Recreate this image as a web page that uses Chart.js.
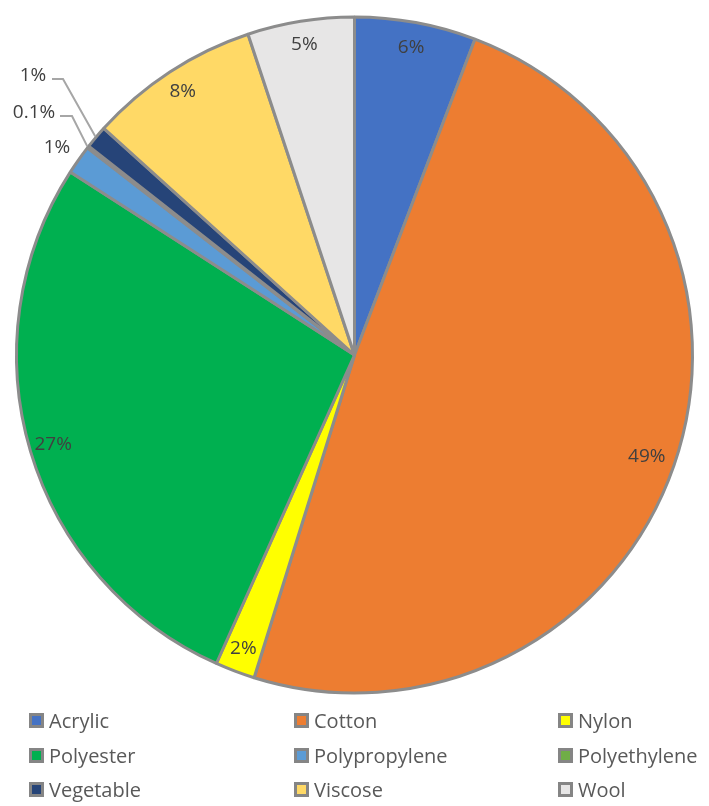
<!DOCTYPE html>
<html>
<head>
<meta charset="utf-8">
<script src="https://cdn.jsdelivr.net/npm/chart.js@4.4.1/dist/chart.umd.min.js"></script>
<style>
  html, body { margin: 0; padding: 0; background: #fff; }
  #wrap { position: relative; width: 709px; height: 806px; font-family: "Open Sans", sans-serif; }
  #box { position: absolute; left: 0; top: 0; width: 709px; height: 710px; }
  #legend { position: absolute; left: 0; top: 0; width: 709px; height: 806px; pointer-events: none; }
  .item { position: absolute; display: flex; align-items: center; font-size: 20px; color: #595959; height: 28px; }
  .swatch { width: 9px; height: 9px; border: 3px solid #858585; margin-right: 5px; }
</style>
</head>
<body>
<div id="wrap">
  <div id="box"><canvas id="pie"></canvas></div>
  <div id="legend"></div>
</div>
<script>
var categories = ["Acrylic", "Cotton", "Nylon", "Polyester", "Polypropylene", "Polyethylene", "Vegetable", "Viscose", "Wool"];
var shares = [5.8, 49, 1.9, 27.4, 1.4, 0.1, 1.1, 8.2, 5.1];
var sliceLabels = ["6%", "49%", "2%", "27%", "1%", "0.1%", "1%", "8%", "5%"];
var colors = ["#4472c4", "#ed7d31", "#ffff00", "#00b050", "#5b9bd5", "#70ad47", "#264478", "#ffd966", "#e7e6e6"];

// label placement: radial fraction for inside labels, fixed spots for the small ones
var labelRadius = [0.925, 0.915, 0.93, 0.93, null, null, null, 0.93, 0.93];
var outside = {
  4: { x: 57, y: 148 },
  5: { x: 34, y: 113, lead: [[60, 116], [72, 116]] },
  6: { x: 33, y: 76, lead: [[52, 79], [63, 79]] }
};

var labelPlugin = {
  id: "sliceLabels",
  afterDatasetsDraw: function (chart) {
    var ctx = chart.ctx;
    var arcs = chart.getDatasetMeta(0).data;
    ctx.save();
    ctx.font = '19px "Open Sans", sans-serif';
    ctx.fillStyle = "#404040";
    ctx.textAlign = "center";
    ctx.textBaseline = "middle";
    for (var i = 0; i < arcs.length; i++) {
      var a = arcs[i];
      var mid = (a.startAngle + a.endAngle) / 2;
      if (labelRadius[i] != null) {
        var r = a.outerRadius * labelRadius[i];
        ctx.fillText(sliceLabels[i], a.x + Math.cos(mid) * r, a.y + Math.sin(mid) * r);
      } else {
        var o = outside[i];
        ctx.fillText(sliceLabels[i], o.x, o.y);
        if (o.lead) {
          ctx.beginPath();
          ctx.strokeStyle = "#a6a6a6";
          ctx.lineWidth = 2;
          ctx.moveTo(o.lead[0][0], o.lead[0][1]);
          ctx.lineTo(o.lead[1][0], o.lead[1][1]);
          ctx.lineTo(a.x + Math.cos(mid) * (a.outerRadius + 1), a.y + Math.sin(mid) * (a.outerRadius + 1));
          ctx.stroke();
        }
      }
    }
    ctx.restore();
  }
};

new Chart(document.getElementById("pie"), {
  type: "pie",
  data: {
    labels: categories,
    datasets: [{
      data: shares,
      backgroundColor: colors,
      borderColor: "#8c8c8c",
      borderWidth: 3
    }]
  },
  options: {
    responsive: true,
    maintainAspectRatio: false,
    animation: false,
    radius: 338,
    layout: { padding: 0 },
    plugins: {
      legend: { display: false },
      tooltip: { enabled: false }
    }
  },
  plugins: [labelPlugin]
});

// legend, 3 columns
var legend = document.getElementById("legend");
var colX = [29, 294, 558];
var rowY = [720, 755, 789];
for (var i = 0; i < categories.length; i++) {
  var el = document.createElement("div");
  el.className = "item";
  el.style.left = colX[i % 3] + "px";
  el.style.top = (rowY[Math.floor(i / 3)] - 14) + "px";
  el.innerHTML = '<span class="swatch" style="background:' + colors[i] + '"></span>' + categories[i];
  legend.appendChild(el);
}
</script>
</body>
</html>
